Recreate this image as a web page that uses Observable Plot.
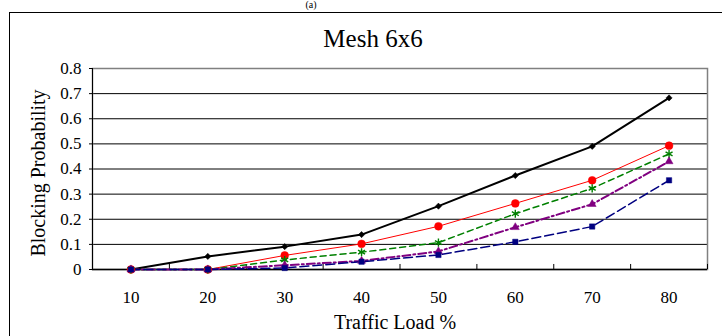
<!DOCTYPE html>
<html>
<head>
<meta charset="utf-8">
<script src="https://cdn.jsdelivr.net/npm/d3@7"></script>
<script src="https://cdn.jsdelivr.net/npm/@observablehq/plot@0.6"></script>
<style>
  html, body { margin: 0; padding: 0; background: white; }
  #chart svg { display: block; overflow: hidden; }
</style>
</head>
<body>
<div id="chart"></div>
<script>
// ---- data ----
const loads = [10, 20, 30, 40, 50, 60, 70, 80];
const yTicks = [0, 0.1, 0.2, 0.3, 0.4, 0.5, 0.6, 0.7, 0.8];
const seriesA = [0, 0.052, 0.091, 0.139, 0.252, 0.374, 0.49, 0.683];   // black diamond
const seriesB = [0, 0, 0.056, 0.102, 0.172, 0.263, 0.355, 0.493];      // red circle
const seriesC = [0, 0, 0.038, 0.069, 0.107, 0.222, 0.323, 0.46];       // green asterisk
const seriesD = [0, 0, 0.017, 0.034, 0.072, 0.168, 0.26, 0.43];        // purple triangle
const seriesE = [0, 0, 0.006, 0.031, 0.058, 0.11, 0.171, 0.355];       // navy square

const styles = [
  {name: "A", values: seriesA, color: "#000000", width: 2,   dash: null,        symbol: "diamond2", r: 2.8},
  {name: "B", values: seriesB, color: "#ff0000", width: 1,   dash: null,        symbol: "circle",   r: 3.9},
  {name: "C", values: seriesC, color: "#008000", width: 1.5, dash: "6,4",       symbol: "asterisk", r: 3.8},
  {name: "D", values: seriesD, color: "#800080", width: 2,   dash: "8,3,2,3",   symbol: "triangle2",r: 3.8},
  {name: "E", values: seriesE, color: "#000080", width: 1.5, dash: "9,4",       symbol: "square2",  r: 3.4}
];

const rows = styles.flatMap(s => loads.map((x, i) => ({series: s.name, x, y: s.values[i]})));
const bounds = [5, 15, 25, 35, 45, 55, 65, 75, 85];
const font = "'Liberation Serif', 'Times New Roman', serif";

const lineMarks = styles.map(s => Plot.line(rows.filter(d => d.series === s.name), {
  x: "x", y: "y", stroke: s.color, strokeWidth: s.width, strokeDasharray: s.dash
}));
const dotMarks = styles.map(s => Plot.dot(rows.filter(d => d.series === s.name), {
  x: "x", y: "y", symbol: () => s.symbol, r: s.r,
  fill: s.symbol === "asterisk" ? "none" : s.color,
  stroke: s.color, strokeWidth: s.symbol === "asterisk" ? 1.4 : 0.5
}));

const chart = Plot.plot({
  width: 722,
  height: 336,
  marginLeft: 92,
  marginRight: 15,
  marginTop: 68,
  marginBottom: 67,
  style: {fontFamily: font, background: "white", color: "black"},
  x: {type: "linear", domain: [5, 85]},
  y: {domain: [0, 0.8]},
  symbol: {type: "identity"},
  marks: [
    // outer box
    Plot.frame({stroke: "black", strokeWidth: 1, insetLeft: -83, insetTop: -56, insetRight: -40, insetBottom: -120}),
    // grid lines
    Plot.ruleY(yTicks.slice(1, -1), {stroke: "black", strokeWidth: 1}),
    Plot.frame({stroke: "#808080", strokeWidth: 1.5}),
    Plot.ruleY([0], {stroke: "black", strokeWidth: 1.5}),
    Plot.ruleX([5], {stroke: "black", strokeWidth: 1}),
    // x ticks between categories (inside)
    Plot.ruleX(bounds, {y1: 0, y2: 0.02, stroke: "black", strokeWidth: 1}),
    Plot.axisY({ticks: yTicks, tickSize: 3, tickPadding: 8, fontSize: 17, fontFamily: font, tickFormat: d => String(d), label: null}),
    Plot.axisX({ticks: loads, tickSize: 0, tickPadding: 21, fontSize: 17, fontFamily: font, label: null}),
    ...lineMarks,
    ...dotMarks,
    // texts
    Plot.text(["Mesh 6x6"], {frameAnchor: "top", dx: -27, dy: -22, lineAnchor: "bottom", fontSize: 25, fontFamily: font, text: d => d}),
    Plot.text(["(a)"], {frameAnchor: "top", dx: -89, dy: -68, lineAnchor: "top", fontSize: 10, fontFamily: font, text: d => d}),
    Plot.text(["Blocking Probability"], {frameAnchor: "left", textAnchor: "middle", dx: -54, dy: 4, rotate: -90, fontSize: 20, fontFamily: font, text: d => d}),
    Plot.text(["Traffic Load %"], {frameAnchor: "bottom", dx: -5, dy: 59, lineAnchor: "bottom", fontSize: 20, fontFamily: font, text: d => d})
  ]
});
document.getElementById("chart").appendChild(chart);
</script>
</body>
</html>
